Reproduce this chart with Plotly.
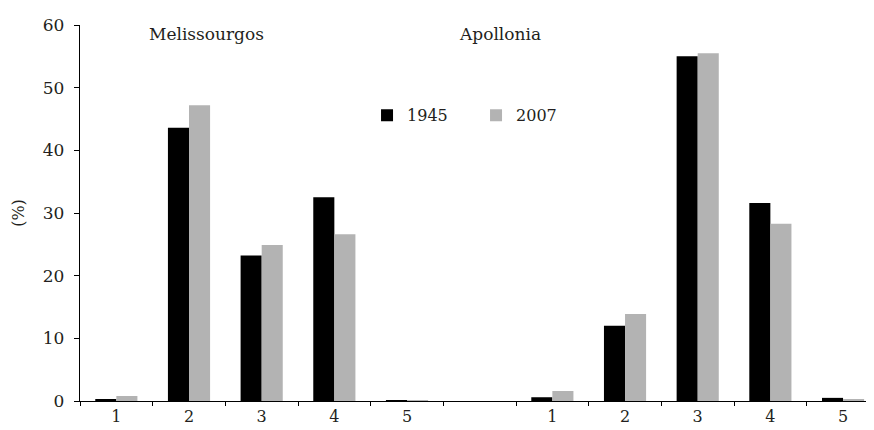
import plotly.graph_objects as go

# ---- data ----
categories = ["M1", "M2", "M3", "M4", "M5", "gap", "A1", "A2", "A3", "A4", "A5"]
tick_labels = ["1", "2", "3", "4", "5", "", "1", "2", "3", "4", "5"]
values_1945 = [0.3, 43.6, 23.2, 32.5, 0.15, None, 0.6, 12.0, 55.0, 31.6, 0.5]
values_2007 = [0.8, 47.2, 24.9, 26.6, 0.1, None, 1.6, 13.9, 55.5, 28.3, 0.25]
series_names = ["1945", "2007"]
group_labels = ["Melissourgos", "Apollonia"]
y_ticks = [0, 10, 20, 30, 40, 50, 60]

FONT = "DejaVu Serif"
TXT = "#231f20"

fig = go.Figure()
fig.add_trace(go.Bar(x=categories, y=values_1945, name=series_names[0],
                     marker=dict(color="#000000", line=dict(width=0))))
fig.add_trace(go.Bar(x=categories, y=values_2007, name=series_names[1],
                     marker=dict(color="#b3b3b3", line=dict(width=0))))

# page body has an 8px margin, so the figure starts at (8, 8)
fig.update_layout(
    width=866, height=422,
    margin=dict(l=72, r=0, t=17, b=29, autoexpand=False),
    plot_bgcolor="white", paper_bgcolor="white",
    barmode="group", bargap=0.42, bargroupgap=0,
    font=dict(family=FONT, size=16, color=TXT),
    showlegend=True,
    legend=dict(orientation="h", x=0.3615, xanchor="left", y=0.76, yanchor="middle",
                font=dict(family=FONT, size=16, color=TXT),
                entrywidth=64, entrywidthmode="pixels",
                bgcolor="rgba(0,0,0,0)", traceorder="normal"),
)

fig.update_xaxes(
    type="category", categoryorder="array", categoryarray=categories,
    tickvals=categories, ticktext=tick_labels,
    range=[-0.5, 10.426],
    tickson="boundaries", ticks="outside", ticklen=4, tickcolor="#000000",
    showline=True, linecolor="#000000", linewidth=1.3,
    showgrid=False, zeroline=False, automargin=False,
    ticklabelstandoff=1,
    tickfont=dict(family=FONT, size=16, color=TXT),
)
fig.update_yaxes(
    range=[0, 60], tickvals=y_ticks,
    ticks="outside", ticklen=5, tickcolor="#000000",
    showline=True, linecolor="#000000", linewidth=1.3,
    showgrid=False, zeroline=False, automargin=False,
    ticklabelstandoff=6,
    tickfont=dict(family=FONT, size=17, color=TXT),
    title=dict(text="(%)", font=dict(family=FONT, size=16, color=TXT), standoff=14),
)

fig.add_annotation(text=group_labels[0], xref="paper", yref="paper", x=0.1587, y=0.976,
                   showarrow=False, xanchor="center", yanchor="middle",
                   font=dict(family=FONT, size=17, color=TXT))
fig.add_annotation(text=group_labels[1], xref="paper", yref="paper", x=0.529, y=0.976,
                   showarrow=False, xanchor="center", yanchor="middle",
                   font=dict(family=FONT, size=17, color=TXT))

fig.write_html("out.html")
